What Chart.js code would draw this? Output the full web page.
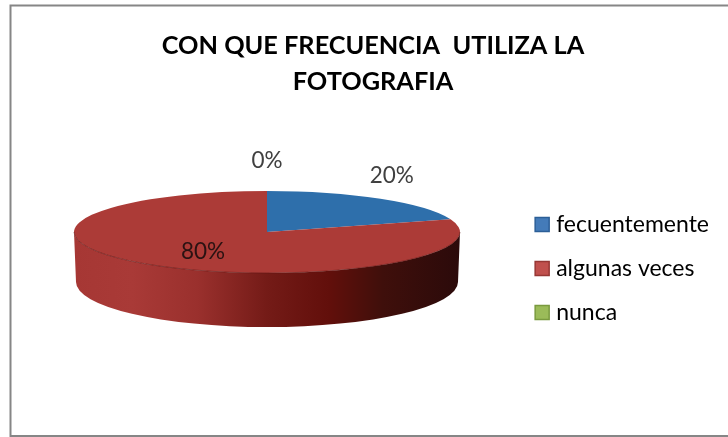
<!DOCTYPE html>
<html>
<head>
<meta charset="utf-8">
<style>
  html, body { margin: 0; padding: 0; background: #fff; }
  #wrap { width: 728px; height: 437px; }
</style>
</head>
<body>
<div id="wrap"><canvas id="grafico"></canvas></div>
<script src="https://cdn.jsdelivr.net/npm/chart.js@4"></script>
<script>
      const categorias = ['fecuentemente', 'algunas veces', 'nunca'];
      const valores = [20, 80, 0];
      const tituloLineas = ['CON QUE FRECUENCIA  UTILIZA LA', 'FOTOGRAFIA'];

      const coloresCara = ['#2E6FAB', '#AC3B37', '#8FAF4E'];
      const coloresLeyenda = ['#447BB9', '#C0504D', '#9BBB59'];
      const bordesLeyenda = ['#2C5F97', '#963734', '#7A9A3F'];

      // posicion de cada porcentaje respecto al radio de la elipse [x, y]
      const factoresEtiqueta = [[1.1, 1.7], [0.564, 0.6], [0.01, 1.75]];

      // geometria de la tarta en perspectiva
      const centroX = 267;
      const centroY = 232;
      const radioX = 193;
      const radioY = 41;

      // sombreado del lateral, de izquierda a derecha
      const gradienteLateral = [
        [0, '#A63734'], [0.15, '#A93A37'], [0.32, '#9A302D'], [0.5, '#741B17'],
        [0.66, '#620F0B'], [0.8, '#3F0F0B'], [1, '#2B0A0A'],
      ];

      const tarta3d = {
        id: 'tarta3d',
        beforeDraw(chart) {
          // marco del grafico
          const { ctx, width } = chart;
          ctx.save();
          ctx.strokeStyle = '#868686';
          ctx.lineWidth = 2;
          ctx.beginPath();
          ctx.moveTo(width, 5.5);
          ctx.lineTo(10.5, 5.5);
          ctx.lineTo(10.5, 436);
          ctx.lineTo(width, 436);
          ctx.stroke();
          ctx.restore();
        },
        beforeDatasetsDraw(chart) {
          const { ctx } = chart;
          const arcos = chart.getDatasetMeta(0).data;
          ctx.save();

          // lateral: solo la mitad delantera de la elipse
          const grad = ctx.createLinearGradient(centroX - radioX, 0, centroX + radioX, 0);
          gradienteLateral.forEach(([p, c]) => grad.addColorStop(p, c));
          ctx.beginPath();
          ctx.ellipse(centroX, centroY, radioX, radioY, 0, Math.PI, 0, true);
          ctx.lineTo(centroX + radioX - 2, centroY + 50);
          ctx.ellipse(centroX, centroY + 50, radioX - 2, 45, 0, 0, Math.PI, false);
          ctx.closePath();
          ctx.fillStyle = grad;
          ctx.fill();

          // la cara superior se aplana con la misma libreria dibujando los arcos
          ctx.translate(centroX, centroY);
          ctx.scale(1, radioY / radioX);
          ctx.translate(-arcos[0].x, -arcos[0].y);
        },
        afterDatasetsDraw(chart) {
          const { ctx } = chart;
          const arcos = chart.getDatasetMeta(0).data;
          ctx.restore();

          ctx.save();
          // borde oscuro entre la cara y el lateral
          ctx.strokeStyle = 'rgba(90, 20, 18, 0.55)';
          ctx.lineWidth = 1;
          ctx.beginPath();
          ctx.ellipse(centroX, centroY, radioX, radioY, 0, Math.PI, 0, true);
          ctx.stroke();

          ctx.font = '22.5px Lato';
          ctx.textAlign = 'center';
          ctx.textBaseline = 'middle';
          arcos.forEach((arco, i) => {
            const medio = (arco.startAngle + arco.endAngle) / 2;
            const x = centroX + Math.cos(medio) * radioX * factoresEtiqueta[i][0];
            const y = centroY + Math.sin(medio) * radioY * factoresEtiqueta[i][1];
            ctx.fillStyle = i === 1 ? '#2A1212' : '#404040';
            ctx.fillText(valores[i] + '%', x, y);
          });
          ctx.restore();
        },
      };

      const ctx1 = document.getElementById('grafico').getContext('2d');
      const graficoFrecuencia = new Chart(ctx1, {
        type: 'pie',
        data: {
          labels: categorias,
          datasets: [
            {
              data: valores,
              backgroundColor: coloresCara,
              borderWidth: 0,
              radius: radioX,
              clip: false,
            },
          ],
        },
        options: {
          responsive: true,
          maintainAspectRatio: false,
          animation: false,
          layout: { padding: { left: 27, right: 9, top: 0, bottom: 0 } },
          plugins: {
            tooltip: { enabled: false },
            title: {
              display: true,
              text: tituloLineas,
              color: '#000000',
              font: { family: 'Lato', size: 25.3, weight: 'bold', lineHeight: 1.42 },
              padding: { top: 28, bottom: 0 },
            },
            legend: {
              position: 'right',
              fullSize: false,
              labels: {
                color: '#404040',
                font: { family: 'Lato', size: 23 },
                boxWidth: 5,
                boxHeight: 14,
                padding: 21,
                usePointStyle: true,
                generateLabels: () => categorias.map((c, i) => ({
                  text: c,
                  fillStyle: coloresLeyenda[i],
                  strokeStyle: bordesLeyenda[i],
                  lineWidth: 1.5,
                  pointStyle: 'rect',
                  index: i,
                })),
              },
            },
          },
        },
        plugins: [tarta3d],
      });
</script>
</body>
</html>
